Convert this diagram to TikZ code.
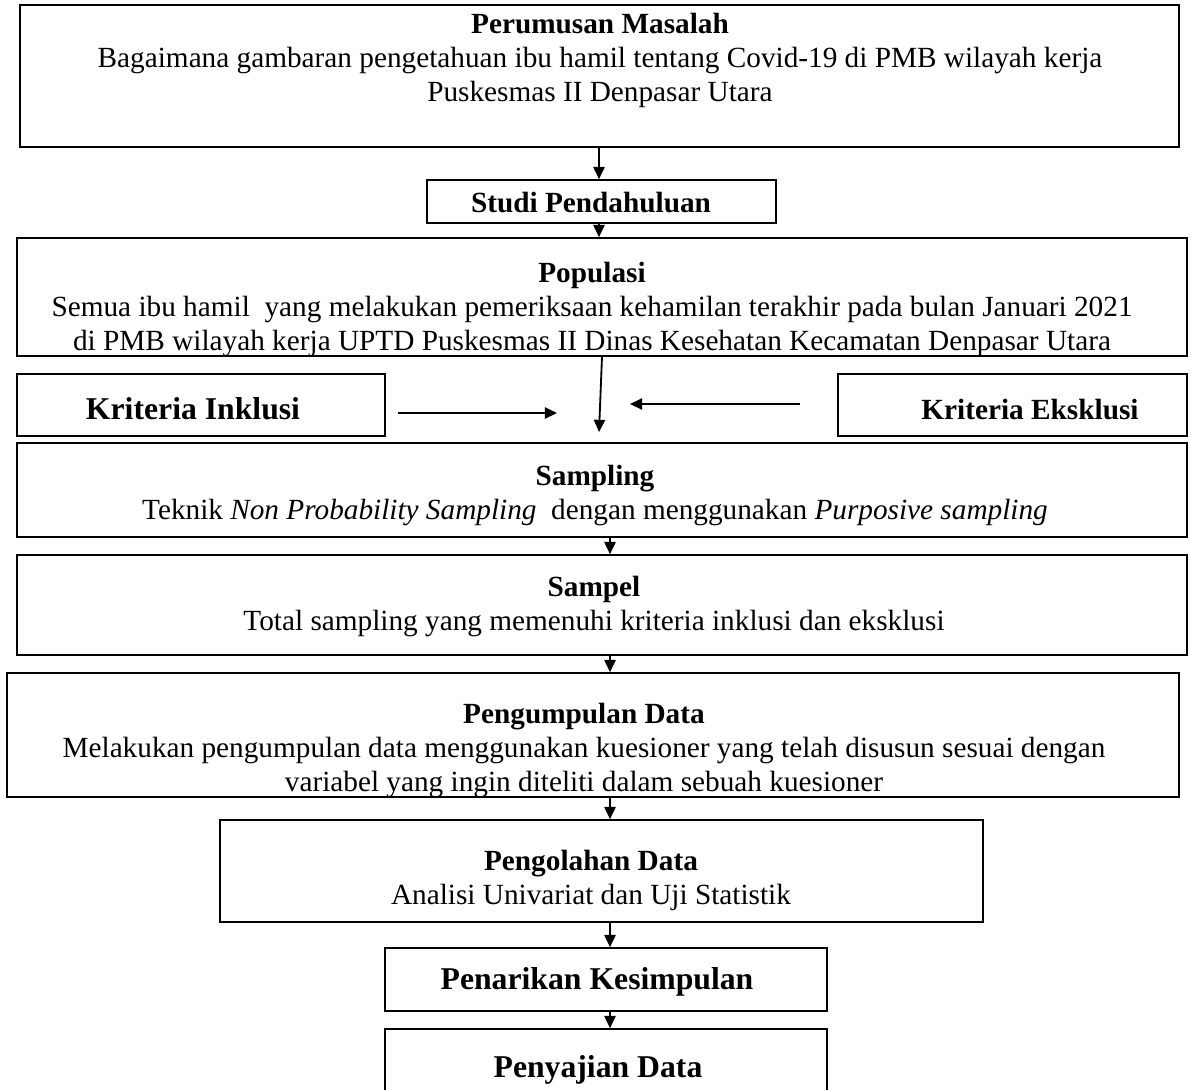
\documentclass[tikz,border=0pt]{standalone}
\usepackage{fontspec}
\setmainfont{Liberation Serif}
\usetikzlibrary{fit,arrows.meta}
\begin{document}
\begin{tikzpicture}[x=0.41pt,y=-0.41pt,
        boxline/.style={draw,line width=0.7pt,inner sep=0pt},
        bodytext/.style={inner sep=0pt,anchor=north,align=center,font=\fontsize{12}{13.8}\selectfont},
        headtext/.style={inner sep=0pt,anchor=base,font=\fontsize{12}{14}\selectfont\bfseries},
        bigtext/.style={inner sep=0pt,anchor=base,font=\fontsize{13}{15}\selectfont\bfseries},
        flowarrow/.style={line width=0.75pt,-{Triangle[length=5pt,width=4.6pt]}}]
        \useasboundingbox (0,0) rectangle (1191,1089);
        \node[boxline,fit={(20,5) (1179,147)}] (masalah) {};
        \node[bodytext] (masalahtxt) at (600,13) {\textbf{Perumusan Masalah}\\Bagaimana gambaran pengetahuan ibu hamil tentang Covid-19 di PMB wilayah kerja\\Puskesmas II Denpasar Utara};
        \node[boxline,fit={(427,180) (776,223)}] (studi) {};
        \node[headtext] (studitxt) at (591,212) {Studi Pendahuluan};
        \node[boxline,fit={(17,238) (1187,356)}] (populasi) {};
        \begin{scope}
            \clip (populasi.north west) rectangle (populasi.south east);
            \node[bodytext] (populasitxt) at (592,262) {\textbf{Populasi}\\Semua ibu hamil\ \ yang melakukan pemeriksaan kehamilan terakhir pada bulan Januari 2021\\di PMB wilayah kerja UPTD Puskesmas II Dinas Kesehatan Kecamatan Denpasar Utara};
        \end{scope}
        \node[boxline,fit={(17,374) (385,436)}] (inklusi) {};
        \node[bigtext] (inklusitxt) at (193,419) {Kriteria Inklusi};
        \node[boxline,fit={(838,374) (1187,436)}] (eksklusi) {};
        \node[headtext] (eksklusitxt) at (1030,419) {Kriteria Eksklusi};
        \node[boxline,fit={(17,443) (1187,537)}] (sampling) {};
        \node[bodytext] (samplingtxt) at (595,465) {\textbf{Sampling}\\Teknik \textit{Non Probability Sampling}\ \ dengan menggunakan \textit{Purposive sampling}};
        \node[boxline,fit={(17,555) (1187,655)}] (sampel) {};
        \node[bodytext] (sampeltxt) at (594,576) {\textbf{Sampel}\\Total sampling yang memenuhi kriteria inklusi dan eksklusi};
        \node[boxline,fit={(7,673) (1179,797)}] (kumpul) {};
        \begin{scope}
            \clip (kumpul.north west) rectangle (kumpul.south east);
            \node[bodytext] (kumpultxt) at (584,703) {\textbf{Pengumpulan Data}\\Melakukan pengumpulan data menggunakan kuesioner yang telah disusun sesuai dengan\\variabel yang ingin diteliti dalam sebuah kuesioner};
        \end{scope}
        \node[boxline,fit={(220,820) (983,922)}] (olah) {};
        \node[bodytext] (olahtxt) at (591,850) {\textbf{Pengolahan Data}\\Analisi Univariat dan Uji Statistik};
        \node[boxline,fit={(385,948) (827,1011)}] (simpul) {};
        \node[bigtext] (simpultxt) at (597,989) {Penarikan Kesimpulan};
        \node[boxline,fit={(385,1029) (827,1100)}] (saji) {};
        \node[bigtext] (sajitxt) at (598,1077) {Penyajian Data};
        \coordinate (upper) at (599,0);
        \coordinate (lower) at (610,0);
        \coordinate (drop) at (602,0);
        \coordinate (meet) at (599,432);
        \coordinate (inkfrom) at (398,413);
        \coordinate (inkto) at (557,413);
        \coordinate (eksfrom) at (800,404);
        \coordinate (eksto) at (630,404);
        \draw[flowarrow] (masalah.south -| upper) -- (studi.north -| upper);
        \draw[flowarrow] (studi.south -| upper) -- (populasi.north -| upper);
        \draw[flowarrow] (populasi.south -| drop) -- (meet);
        \draw[flowarrow] (inkfrom) -- (inkto);
        \draw[flowarrow] (eksfrom) -- (eksto);
        \draw[flowarrow] (sampling.south -| lower) -- (sampel.north -| lower);
        \draw[flowarrow] (sampel.south -| lower) -- (kumpul.north -| lower);
        \draw[flowarrow] (kumpul.south -| lower) -- (olah.north -| lower);
        \draw[flowarrow] (olah.south -| lower) -- (simpul.north -| lower);
        \draw[flowarrow] (simpul.south -| lower) -- (saji.north -| lower);
\end{tikzpicture}
\end{document}
